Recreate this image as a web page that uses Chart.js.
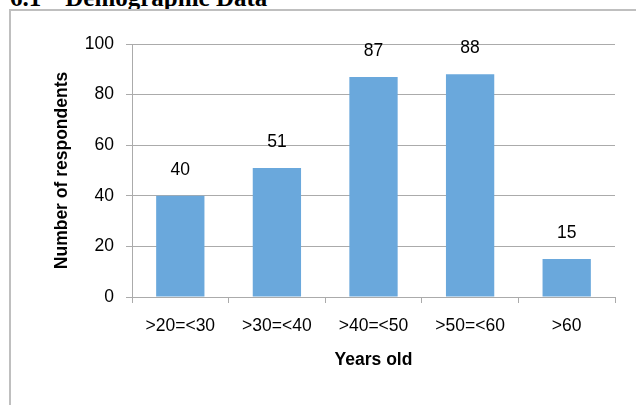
<!DOCTYPE html>
<html>
<head>
<meta charset="utf-8">
<script src="https://cdn.jsdelivr.net/npm/chart.js@4.4.1/dist/chart.umd.min.js"></script>
<style>
    html, body { margin: 0; padding: 0; width: 636px; height: 405px; overflow: hidden; background: #fff; }
    #encabezado { position: absolute; left: 10px; top: -15px; font: bold 25px 'Liberation Serif', 'Times New Roman', serif; line-height: 25px; white-space: pre; color: #000; }
    #marco { position: absolute; left: 9px; top: 9px; width: 700px; height: 500px; border: 2px solid #bfbfbf; }
    #contenedor { position: absolute; left: 0; top: 0; width: 636px; height: 405px; }
</style>
</head>
<body>
<div id="encabezado"><span>6.1</span><span style="margin-left:24px">Demographic Data</span></div>
<div id="marco"></div>
<div id="contenedor"><canvas id="graficoEdades" width="636" height="405"></canvas></div>
<script>
// Datos del grafico: grupos de edad y cantidad de encuestados
const gruposEdad = ['>20=<30', '>30=<40', '>40=<50', '>50=<60', '>60'];
const encuestados = [40, 51, 87, 88, 15];
const ticksEjeY = [0, 20, 40, 60, 80, 100];

// Estilos generales (no hay Arial Narrow, se achica la Liberation Sans)
const fuente = "'Liberation Sans', Arial, sans-serif";
const tamFuente = 17.5;
const colorTexto = '#000000';
const colorBarra = '#6aa8dc';
const colorGrilla = '#ababab';

// Plugin para escribir el valor encima de cada barra
const etiquetasDatos = {
    id: 'etiquetasDatos',
    afterDatasetsDraw(chart) {
        const ctx = chart.ctx;
        const meta = chart.getDatasetMeta(0);
        ctx.save();
        ctx.font = tamFuente + 'px ' + fuente;
        ctx.fillStyle = colorTexto;
        ctx.textAlign = 'center';
        ctx.textBaseline = 'middle';
        meta.data.forEach((barra, i) => {
            ctx.fillText(String(encuestados[i]), barra.x, barra.y - 26);
        });
        ctx.restore();
    }
};

const ctx = document.getElementById('graficoEdades').getContext('2d');
const grafico = new Chart(ctx, {
    type: 'bar',
    data: {
        labels: gruposEdad,
        datasets: [{
            label: 'Number of respondents',
            data: encuestados,
            backgroundColor: colorBarra,
            borderWidth: 0,
            categoryPercentage: 1,
            barPercentage: 0.5
        }]
    },
    options: {
        responsive: false,
        animation: false,
        layout: { padding: { left: 46, top: 44, right: 21, bottom: 29 } },
        plugins: {
            legend: { display: false },
            tooltip: { enabled: false }
        },
        scales: {
            x: {
                grid: { display: true, drawOnChartArea: false, drawTicks: true, tickLength: 6, color: colorGrilla, offset: true },
                border: { display: true, color: colorGrilla, width: 1 },
                ticks: { color: colorTexto, padding: 12.5, font: { family: fuente, size: tamFuente }, maxRotation: 0 },
                title: { display: true, text: 'Years old', color: colorTexto, padding: { top: 14, bottom: 5.5 }, font: { family: fuente, size: tamFuente, weight: 'bold' } },
                afterFit(escala) { escala.height = 79; }
            },
            y: {
                min: 0,
                max: 100,
                afterBuildTicks(escala) { escala.ticks = ticksEjeY.map(v => ({ value: v })); },
                grid: { color: colorGrilla, tickLength: 6, drawTicks: true },
                border: { display: true, color: colorGrilla, width: 1 },
                ticks: { color: colorTexto, padding: 12, font: { family: fuente, size: tamFuente } },
                title: { display: true, text: 'Number of respondents', color: colorTexto, padding: { top: 5.5, bottom: 4 }, font: { family: fuente, size: tamFuente, weight: 'bold' } },
                afterFit(escala) { escala.width = 86; }
            }
        }
    },
    plugins: [etiquetasDatos]
});
</script>
</body>
</html>
